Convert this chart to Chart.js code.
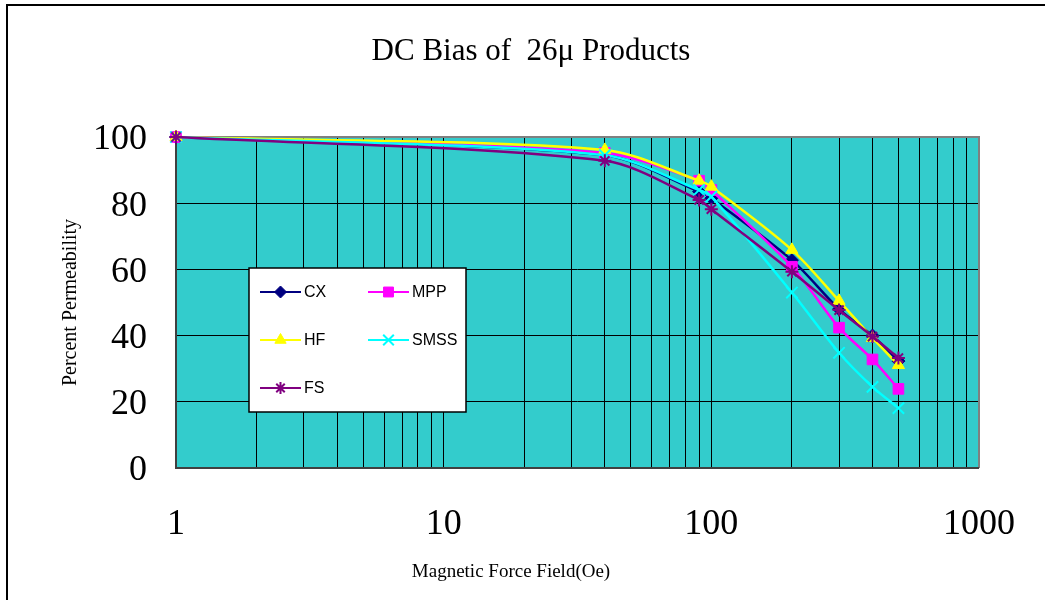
<!DOCTYPE html>
<html>
<head>
<meta charset="utf-8">
<script src="https://cdn.jsdelivr.net/npm/chart.js@4/dist/chart.umd.min.js"></script>
<style>
html,body{margin:0;padding:0;background:#fff;}
#wrap{width:1045px;height:600px;position:relative;}
</style>
</head>
<body>
<div id="wrap"><canvas id="c" width="1045" height="600"></canvas></div>
<script>
// ---- data ----
const fieldOe = [1, 40, 90, 100, 200, 300, 400, 500];
const cxValues   = [100, 94.5, 83.5, 81.5, 62.8, 48.0, 40.0, 32.3];
const mppValues  = [100, 95.2, 86.8, 84.0, 60.8, 42.4, 32.8, 23.9];
const hfValues   = [100, 96.1, 86.8, 85.0, 65.9, 50.5, 39.3, 31.1];
const smssValues = [100, 94.5, 84.0, 82.0, 53.0, 34.8, 24.5, 18.1];
const fsValues   = [100, 92.8, 81.0, 78.2, 59.3, 47.7, 39.7, 33.2];
const seriesNames = ['CX', 'MPP', 'HF', 'SMSS', 'FS'];
const xTickLabels = [1, 10, 100, 1000];
const xGridValues = [1,2,3,4,5,6,7,8,9,10,20,30,40,50,60,70,80,90,100,200,300,400,500,600,700,800,900,1000];
const yTickValues = [0, 20, 40, 60, 80, 100];
const chartTitle = 'DC Bias of  26\u03bc Products';
const xTitle = 'Magnetic Force Field(Oe)';
const yTitle = 'Percent Permeability';

// ---- styles ----
const styles = [
  {color:'#000080', style:'rectRot', radius:6.5, bw:1},
  {color:'#FF00FF', style:'rect', radius:7.5, bw:1},
  {color:'#FFFF00', style:'triangle', radius:7, bw:1},
  {color:'#00FFFF', style:'crossRot', radius:8, bw:2},
  {color:'#800080', style:'star', radius:6.5, bw:2}
];
const allValues = [cxValues, mppValues, hfValues, smssValues, fsValues];

const datasets = allValues.map((vals, i) => ({
  label: seriesNames[i],
  data: vals.map((v, j) => ({x: fieldOe[j], y: v})),
  borderColor: styles[i].color,
  backgroundColor: styles[i].color,
  pointBackgroundColor: styles[i].color,
  pointBorderColor: styles[i].color,
  pointStyle: styles[i].style,
  pointRadius: styles[i].radius,
  pointBorderWidth: styles[i].bw,
  borderWidth: 2.5,
  tension: 0.3,
  fill: false,
  clip: false,
  order: 5 - i
}));

const plotBg = {
  id: 'plotBg',
  beforeDraw(chart) {
    const {ctx, chartArea: a} = chart;
    ctx.save();
    ctx.fillStyle = '#33CCCC';
    ctx.fillRect(a.left, a.top, a.right - a.left, a.bottom - a.top);
    // outer frame
    ctx.strokeStyle = '#000';
    ctx.lineWidth = 2;
    ctx.beginPath();
    ctx.moveTo(1045, 5); ctx.lineTo(7, 5); ctx.lineTo(7, 600);
    ctx.stroke();
    // title
    ctx.fillStyle = '#000';
    ctx.font = '31px "Liberation Serif", "Times New Roman", serif';
    ctx.textAlign = 'center';
    ctx.textBaseline = 'middle';
    ctx.fillText(chartTitle, 531, 52);
    ctx.font = '19px "Liberation Serif", "Times New Roman", serif';
    ctx.fillText(xTitle, 511, 572);
    ctx.restore();
  },
  beforeDatasetsDraw(chart) {
    const {ctx, chartArea: a} = chart;
    ctx.save();
    ctx.lineWidth = 2;
    ctx.strokeStyle = '#808080';
    ctx.beginPath();
    ctx.moveTo(a.left, a.top); ctx.lineTo(a.right, a.top); ctx.lineTo(a.right, a.bottom);
    ctx.stroke();
    ctx.strokeStyle = '#404040';
    ctx.beginPath();
    ctx.moveTo(a.left, a.top); ctx.lineTo(a.left, a.bottom); ctx.lineTo(a.right, a.bottom);
    ctx.stroke();
    ctx.restore();
  },
  afterDatasetsDraw(chart) {
    const ctx = chart.ctx;
    ctx.save();
    ctx.fillStyle = '#fff';
    ctx.fillRect(249, 268, 217, 144);
    ctx.strokeStyle = '#000';
    ctx.lineWidth = 1.5;
    ctx.strokeRect(249, 268, 217, 144);
    const pos = [[260, 292], [368, 292], [260, 340], [368, 340], [260, 388]];
    ctx.font = '16px "Liberation Sans", Arial, sans-serif';
    ctx.textBaseline = 'middle';
    ctx.textAlign = 'left';
    seriesNames.forEach((name, si) => {
      const [lx, ly] = pos[si];
      const s = styles[si];
      ctx.strokeStyle = s.color;
      ctx.lineWidth = 2;
      ctx.beginPath(); ctx.moveTo(lx, ly); ctx.lineTo(lx + 41, ly); ctx.stroke();
      ctx.fillStyle = s.color;
      ctx.lineWidth = s.bw;
      if (Chart.helpers && Chart.helpers.drawPoint) {
        Chart.helpers.drawPoint(ctx, {pointStyle: s.style, radius: s.radius - 0.5, rotation: 0, borderWidth: s.bw}, lx + 20.5, ly);
      }
      ctx.fillStyle = '#000';
      ctx.fillText(name, lx + 44, ly + 1);
    });
    ctx.restore();
  }
};

new Chart(document.getElementById('c'), {
  type: 'line',
  data: {datasets},
  options: {
    responsive: false,
    animation: false,
    devicePixelRatio: 1,
    layout: {padding: {left: 0, top: 137, right: 66, bottom: 0}},
    plugins: {legend: {display: false}, tooltip: {enabled: false}, title: {display: false}},
    scales: {
      x: {
        type: 'logarithmic',
        min: 1, max: 1000,
        afterBuildTicks(scale) { scale.ticks = xGridValues.map(v => ({value: v})); },
        afterFit(scale) { scale.height = 132; scale.paddingLeft = 0; scale.paddingRight = 0; },
        grid: {color: '#000', lineWidth: 1, drawTicks: false},
        border: {display: false},
        ticks: {
          autoSkip: false, maxRotation: 0, padding: 35,
          color: '#000',
          font: {family: '"Liberation Serif", "Times New Roman", serif', size: 36},
          callback: v => xTickLabels.includes(v) ? String(v) : ''
        }
      },
      y: {
        min: 0, max: 100,
        afterBuildTicks(scale) { scale.ticks = yTickValues.map(v => ({value: v})); },
        afterFit(scale) { scale.width = 176; scale.paddingTop = 0; scale.paddingBottom = 0; },
        grid: {color: '#000', lineWidth: 1, drawTicks: false},
        border: {display: false},
        title: {
          display: true, text: yTitle, color: '#000',
          font: {family: '"Liberation Serif", "Times New Roman", serif', size: 20},
          padding: {top: 59, bottom: 0}
        },
        ticks: {
          padding: 29, color: '#000', labelOffset: 3,
          font: {family: '"Liberation Serif", "Times New Roman", serif', size: 36}
        }
      }
    }
  },
  plugins: [plotBg]
});
</script>
</body>
</html>
